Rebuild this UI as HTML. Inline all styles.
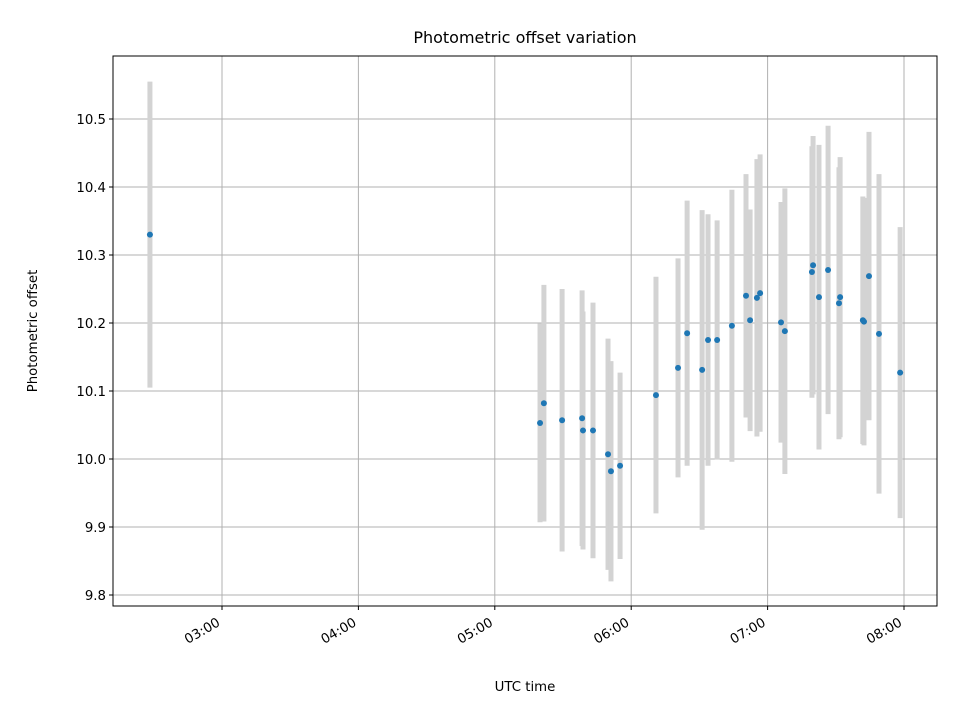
<!DOCTYPE html>
<html><head><meta charset="utf-8"><style>
html,body{margin:0;padding:0;background:#fff}
svg{display:block;font-family:"DejaVu Sans","Liberation Sans",sans-serif}
</style></head><body>
<svg id="chart" width="960" height="720" viewBox="0 0 960 720" xmlns="http://www.w3.org/2000/svg">
<rect width="960" height="720" fill="#fff"/>
<text x="525" y="43" font-size="16" text-anchor="middle" fill="#000">Photometric offset variation</text>
<text x="525" y="691" font-size="13.3" text-anchor="middle" fill="#000">UTC time</text>
<text x="37" y="331" font-size="13.3" text-anchor="middle" fill="#000" transform="rotate(-90 37 331)">Photometric offset</text>
<g id="grid"></g>
<g id="bars"></g>
<g id="points"></g>
<rect x="113" y="56" width="824" height="550" fill="none" stroke="#000" stroke-width="1"/>
<g id="ticks"></g>
</svg>
<script>
// time in minutes since 00:00 UTC
const times = [148.3,319.9,321.6,329.6,338.4,338.8,343.2,349.8,351.1,355.1,370.9,380.6,384.6,391.2,393.8,397.8,404.3,410.5,412.3,415.3,416.7,425.9,427.6,439.5,440.0,442.6,446.6,451.9,451.4,461.9,462.4,464.6,469.0,478.3];
const offsets = [10.33,10.053,10.082,10.057,10.06,10.042,10.042,10.007,9.982,9.99,10.094,10.134,10.185,10.131,10.175,10.175,10.196,10.24,10.204,10.237,10.244,10.201,10.188,10.275,10.285,10.238,10.278,10.238,10.229,10.204,10.202,10.269,10.184,10.127];
const errors = [0.225,0.146,0.174,0.193,0.188,0.175,0.188,0.17,0.162,0.137,0.174,0.161,0.195,0.235,0.185,0.176,0.2,0.179,0.163,0.204,0.204,0.177,0.21,0.185,0.19,0.224,0.212,0.206,0.2,0.182,0.182,0.212,0.235,0.214];
const yTicks = [9.8,9.9,10.0,10.1,10.2,10.3,10.4,10.5];
const xTicks = [180,240,300,360,420,480];
const xTickLabels = ["03:00","04:00","05:00","06:00","07:00","08:00"];

const NS="http://www.w3.org/2000/svg";
const X0=113,X1=937,Y0=56,Y1=606;
function xs(m){return 222+(m-180)*(136.4/60);}
function ys(v){return 119+(10.5-v)*680;}
function mk(tag,attrs,parent){const e=document.createElementNS(NS,tag);for(const k in attrs)e.setAttribute(k,attrs[k]);parent.appendChild(e);return e;}
const grid=document.getElementById('grid'),bars=document.getElementById('bars'),pts=document.getElementById('points'),ticks=document.getElementById('ticks');

yTicks.forEach(v=>{
  const y=ys(v);
  const g=mk('line',{x1:X0,x2:X1,y1:y,y2:y,stroke:'#b0b0b0','stroke-width':1},grid);
  
  
  const t=mk('line',{x1:X0-4,x2:X0,y1:y,y2:y,stroke:'#000','stroke-width':1},ticks);
  
  
  const l=mk('text',{x:X0-7,y:y+5,'font-size':13.3,'text-anchor':'end',fill:'#000'},ticks);
  
  
  l.textContent=v.toFixed(1);
});
xTicks.forEach((m,i)=>{
  const x=xs(m);
  const g=mk('line',{x1:x,x2:x,y1:Y0,y2:Y1,stroke:'#b0b0b0','stroke-width':1},grid);
  
  
  const t=mk('line',{x1:x,x2:x,y1:Y1,y2:Y1+4,stroke:'#000','stroke-width':1},ticks);
  
  
  const tx=x-1,ty=625;
  const l=mk('text',{x:tx,y:ty,'font-size':13.3,'text-anchor':'end',fill:'#000',transform:`rotate(-30 ${tx} ${ty})`},ticks);
  
  
  l.textContent=xTickLabels[i];
});
times.forEach((m,i)=>{
  const x=xs(m);
  const b=mk('line',{x1:x,x2:x,y1:ys(offsets[i]+errors[i]),y2:ys(offsets[i]-errors[i]),stroke:'#d3d3d3','stroke-width':5},bars);
  
  
});
times.forEach((m,i)=>{
  const c=mk('circle',{cx:xs(m),cy:ys(offsets[i]),r:3,fill:'#1f77b4'},pts);
  
  
});
</script>
</body></html>
